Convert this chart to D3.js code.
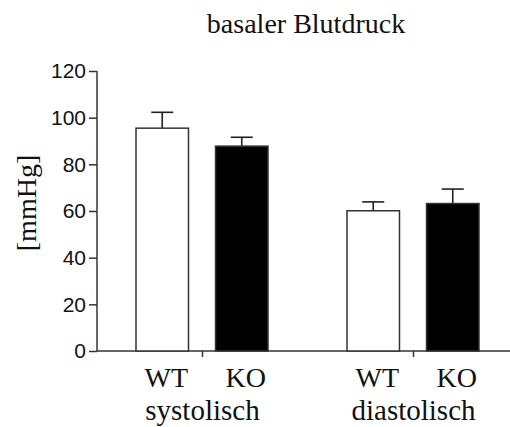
<!DOCTYPE html>
<meta charset="utf-8">
<style>
  html, body { margin: 0; padding: 0; background: #fff; }
  svg { display: block; }
  .serif { font-family: "Liberation Serif", "Times New Roman", serif; fill: #111; }
  .axis path, .axis line { stroke: #333; stroke-width: 1.5px; }
</style>
<body>
<svg id="chart" width="510" height="427"></svg>
<script src="https://cdnjs.cloudflare.com/ajax/libs/d3/7.8.5/d3.min.js"></script>
<script>
// data
var groups = ["systolisch", "diastolisch"];
var genotypes = ["WT", "KO"];
var means = [[95.5, 87.8], [60.1, 63.2]];   // [group][genotype]
var errTop = [[102.3, 91.6], [63.9, 69.4]];
var yTicks = [0, 20, 40, 60, 80, 100, 120];

var svg = d3.select("#chart");
var plotLeft = 97, plotBottom = 351, plotTop = 71;

var y = d3.scaleLinear().domain([0, 120]).range([plotBottom, plotTop]);
var x0 = d3.scaleBand().domain(groups).range([plotLeft, plotLeft + 422]).padding(0);
var x1 = d3.scaleBand().domain(genotypes).range([39, 171]).paddingInner(0.34).paddingOuter(0);

// y axis
svg.append("g")
  .attr("class", "axis")
  .attr("transform", "translate(" + plotLeft + ",0)")
  .call(d3.axisLeft(y).tickValues(yTicks).tickSize(8).tickSizeOuter(0).tickPadding(3))
  .call(g => g.select(".domain").attr("d", "M0," + y(120) + "V" + plotBottom))
  .call(g => g.selectAll("text")
    .attr("font-family", "'Liberation Sans', Arial, sans-serif")
    .attr("font-size", 21)
    .attr("fill", "#111"));

// x axis
svg.append("g")
  .attr("class", "axis")
  .attr("transform", "translate(0," + plotBottom + ")")
  .call(d3.axisBottom(x0).tickSize(6).tickSizeOuter(0).tickFormat(""))
  .call(g => g.select(".domain").attr("d", "M" + plotLeft + ",0H510"));

var rows = [];
groups.forEach(function(g, i) {
  genotypes.forEach(function(k, j) {
    rows.push({ group: g, geno: k, mean: means[i][j], top: errTop[i][j] });
  });
});

var cx = d => x0(d.group) + x1(d.geno) + x1.bandwidth() / 2;

// error bars
var eb = svg.append("g").attr("stroke", "#222").attr("stroke-width", 1.6);
eb.selectAll("line.v").data(rows).enter().append("line")
  .attr("x1", cx).attr("x2", cx)
  .attr("y1", d => y(d.mean)).attr("y2", d => y(d.top));
eb.selectAll("line.c").data(rows).enter().append("line")
  .attr("x1", d => cx(d) - 11).attr("x2", d => cx(d) + 11)
  .attr("y1", d => y(d.top)).attr("y2", d => y(d.top));

// bars
svg.append("g").selectAll("rect").data(rows).enter().append("rect")
  .attr("x", d => x0(d.group) + x1(d.geno))
  .attr("y", d => y(d.mean))
  .attr("width", x1.bandwidth())
  .attr("height", d => plotBottom - y(d.mean))
  .attr("fill", d => d.geno === "WT" ? "#fff" : "#000")
  .attr("stroke", "#333")
  .attr("stroke-width", 1.5);

// category labels
svg.append("g").selectAll("text").data(rows).enter().append("text")
  .attr("class", "serif")
  .attr("x", d => cx(d) + 4)
  .attr("y", 387)
  .attr("text-anchor", "middle")
  .attr("font-size", 28)
  .text(d => d.geno);

svg.append("g").selectAll("text").data(groups).enter().append("text")
  .attr("class", "serif")
  .attr("x", d => x0(d) + x0.bandwidth() / 2)
  .attr("y", 420)
  .attr("text-anchor", "middle")
  .attr("font-size", 29)
  .text(d => d);

// title
svg.append("text")
  .attr("class", "serif")
  .attr("x", 306).attr("y", 33)
  .attr("text-anchor", "middle")
  .attr("font-size", 28)
  .text("basaler Blutdruck");

// y label
svg.append("text")
  .attr("class", "serif")
  .attr("transform", "translate(36,203) rotate(-90)")
  .attr("text-anchor", "middle")
  .attr("font-size", 28)
  .text("[mmHg]");
</script>
</body>
